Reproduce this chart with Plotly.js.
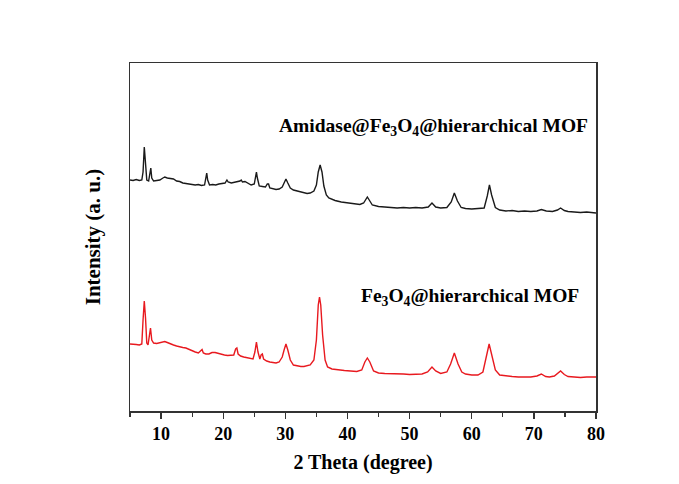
<!DOCTYPE html>
<html>
<head>
<meta charset="utf-8">
<script src="https://cdn.plot.ly/plotly-3.0.1.min.js"></script>
<style>html,body{margin:0;padding:0;background:#fff;}#chart{width:679px;height:484px;}</style>
</head>
<body>
<div id="chart"></div>
<script>
// 2 Theta (degree) and intensity (a. u.)
const thetaAmidase = [5.0,5.5,6.0,6.5,6.9,7.1,7.3,7.5,7.7,8.0,8.2,8.35,8.5,8.8,9.3,9.8,10.3,10.6,11.0,11.5,12.0,12.5,13.0,13.5,14.0,14.5,15.0,15.5,16.0,16.5,17.0,17.2,17.35,17.5,17.8,18.3,18.8,19.3,19.8,20.3,20.6,20.8,21.3,21.8,22.3,22.7,22.9,23.1,23.5,24.0,24.5,25.0,25.2,25.35,25.5,25.8,26.3,26.8,27.1,27.3,27.5,28.0,28.5,29.0,29.5,29.8,30.1,30.4,30.8,31.3,32.0,32.5,33.0,33.5,34.0,34.6,35.0,35.3,35.6,35.9,36.2,36.6,37.0,37.5,38.0,39.0,40.0,41.0,42.0,42.6,43.0,43.2,43.5,44.0,45.0,46.0,47.0,48.0,49.0,50.0,51.0,52.0,53.0,53.6,54.2,55.0,56.0,56.7,57.2,57.7,58.3,59.0,60.0,61.0,62.0,62.5,62.85,63.2,63.8,64.5,65.5,66.5,67.5,68.5,69.5,70.5,71.2,72.0,73.0,73.8,74.3,74.9,75.5,76.5,77.5,78.5,79.5,80.0];
const intensityAmidase = [231,230.5,231.5,230.5,231,239,264,241,231,230,239,243,233,230,230.5,231,233,234,233,232.5,232,230,229.5,228,227.5,227,226.5,226,226.5,225.5,226,233,238,231,226,226.5,226,227,227.5,228,231,229,228,228.5,229.5,230,231,229,229.5,228,226,227,235,239,233,225,224.5,224,227,227,223,222,221.5,222,224,228,232,228,223,221,220,219,218,217.5,218,220,226,239,246,239,225,216,213,211.5,210.5,209,208,207,206.5,208,213,214,211,206,204.5,204,203.5,203,203.5,203,203.5,203,204,208,204,203,203.5,209,218,210,203.5,202.5,202,202.5,203,215,226,216,203.5,201,200,200.5,199.5,200,199.5,200,201.5,200,199.5,201,203,200.5,199.5,199,198.5,199,198,198];

const thetaMOF = [5.0,5.5,6.0,6.5,6.9,7.1,7.3,7.5,7.7,7.9,8.1,8.3,8.5,8.8,9.3,9.8,10.3,10.6,11.0,11.5,12.0,12.5,13.0,13.5,14.0,14.5,15.0,15.5,16.0,16.4,16.6,16.8,17.2,17.7,18.2,18.7,19.2,19.7,20.2,20.7,21.2,21.7,22.0,22.2,22.4,22.8,23.3,23.8,24.3,24.8,25.1,25.35,25.6,25.9,26.1,26.3,26.5,27.0,27.5,28.0,28.5,29.0,29.5,29.8,30.1,30.4,30.8,31.3,32.0,32.5,33.0,33.5,34.0,34.6,35.0,35.3,35.5,35.7,36.0,36.4,36.8,37.5,38.5,39.5,40.5,41.5,42.3,42.8,43.2,43.6,44.2,45.0,46.0,47.0,48.0,49.0,50.0,51.0,52.0,52.9,53.6,54.2,55.0,56.0,56.6,57.2,57.8,58.4,59.0,60.0,61.0,61.8,62.3,62.8,63.3,63.8,64.5,65.5,66.5,67.5,68.5,69.5,70.5,71.2,71.9,72.5,73.3,73.8,74.3,74.9,75.5,76.5,77.5,78.5,79.5,80.0];
const intensityMOF = [67,67,66.5,66,67,91,110,93,68,66,76,83,71,68,67.5,68,69,69.5,68.5,67,66,65,64,63.5,63,61.5,60,59,58,60,61.5,58,57,57,58.5,58.5,57.5,56.5,56,55.5,55.5,56,62,63,57,55,54,53.5,53,52,59,69,59,52,56,57,52,50,49,48.5,48,49,54,61,67,61,51,46,45,44.5,44.5,45,46,51,71,106,114,106,76,51,44,42,41,40.5,40,39.5,41,49,53,49,40,38,37.5,37.5,37,37,36.5,36.5,37,39,44,40,37.5,39,47,58,47,39,37,36,36,39,53,67,54,41,36,35,34.5,34,34,34,35,37,34.5,34,35,38,40,36.5,34.5,34,33.5,34,33.5,34];

const xTickVals = [10,20,30,40,50,60,70,80];
const labelAmidase = "Amidase@Fe<sub>3</sub>O<sub>4</sub>@hierarchical MOF";
const labelMOF = "Fe<sub>3</sub>O<sub>4</sub>@hierarchical MOF";

const serif = "Liberation Serif, Times New Roman, serif";

const traces = [
  {x: thetaAmidase, y: intensityAmidase, type: "scatter", mode: "lines",
   line: {color: "#1a1a1a", width: 1.4}, hoverinfo: "skip"},
  {x: thetaMOF, y: intensityMOF, type: "scatter", mode: "lines",
   line: {color: "#e8191f", width: 1.4}, hoverinfo: "skip"}
];

const layout = {
  width: 679, height: 484,
  margin: {l: 130, r: 83, t: 63, b: 73},
  paper_bgcolor: "#ffffff", plot_bgcolor: "#ffffff",
  showlegend: false,
  xaxis: {
    range: [5, 80], tickvals: xTickVals, ticks: "outside", ticklen: 6, tickwidth: 1.3,
    tickcolor: "#333", showline: true, linecolor: "#333", linewidth: 1.5, mirror: true,
    showgrid: false, zeroline: false,
    minor: {dtick: 5, tick0: 5, ticks: "outside", ticklen: 4, tickwidth: 1.2, tickcolor: "#333", showgrid: false},
    tickfont: {family: serif, size: 18, color: "#000", weight: "bold"},
    title: {text: "<b>2 Theta (degree)</b>", font: {family: serif, size: 20, color: "#000"}, standoff: 12}
  },
  yaxis: {
    range: [0, 348], showticklabels: false, ticks: "", showline: true, linecolor: "#333",
    linewidth: 1.5, mirror: true, showgrid: false, zeroline: false,
    title: {text: "<b>Intensity (a. u.)</b>", font: {family: serif, size: 21, color: "#000"}, standoff: 22}
  },
  annotations: [
    {x: 28.7, y: 284, xref: "x", yref: "y", xanchor: "left", yanchor: "middle", showarrow: false,
     text: "<b>" + labelAmidase + "</b>", font: {family: serif, size: 19.5, color: "#000"}},
    {x: 41.9, y: 114, xref: "x", yref: "y", xanchor: "left", yanchor: "middle", showarrow: false,
     text: "<b>" + labelMOF + "</b>", font: {family: serif, size: 19.5, color: "#000"}}
  ]
};

Plotly.newPlot("chart", traces, layout, {displayModeBar: false, staticPlot: true});
</script>
</body>
</html>
